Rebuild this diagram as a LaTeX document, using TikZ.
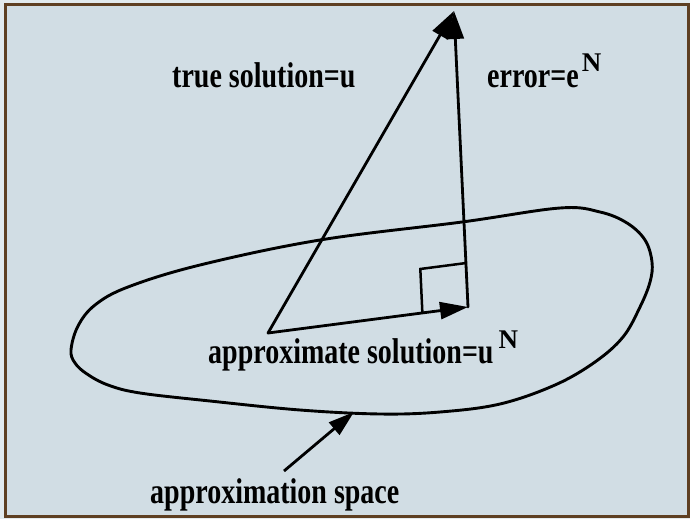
\documentclass[tikz,border=0pt]{standalone}
\usepackage{fontspec}
\usepackage{graphicx}
\setmainfont{Liberation Serif}
\usetikzlibrary{arrows.meta,calc}
\definecolor{bgcol}{HTML}{D1DDE4}
\definecolor{topcol}{HTML}{E2EAEE}
\definecolor{framecol}{HTML}{5E3F22}
\newcommand{\tallt}[1]{\scalebox{1}[1.28]{#1}}
\begin{document}
\begin{tikzpicture}[x=1pt,y=-1pt,
  vec/.style={line width=2.8pt, line cap=round, -{Triangle[length=28pt,width=17pt]}},
  ptr/.style={line width=2.8pt, -{Triangle[length=26pt,width=16pt]}},
  lab/.style={font=\fontsize{28}{30}\selectfont\bfseries, inner sep=0pt, anchor=base west},
  curve/.style={line width=2.9pt},
  sq/.style={line width=2.5pt}]
\useasboundingbox (0,0) rectangle (690,519);
\fill[topcol] (0,0) rectangle (690,519);
\fill[bgcol] (5,5) rectangle (688,516);
\draw[framecol, line width=3pt] (5,5) rectangle (688,516);

% approximation space (closed curve)
\draw[curve] plot[smooth cycle, tension=0.6] coordinates {
  (71,350) (78,326) (95,305) (128,287) (200,265) (320,240) (462,222)
  (560,208) (600,212) (627,223) (645,240) (652,262) (650,282) (640,307)
  (623,337) (595,362) (555,385) (500,404) (440,412) (380,414) (300,410)
  (210,401) (140,393) (108,385) (87,374) (75,363)};

% key points
\coordinate (O) at (268,333);
\coordinate (U) at (454,11);
\coordinate (P) at (468,307);
\coordinate (S) at (354,412);
\coordinate (T) at (284,471);

% right-angle mark
\coordinate (Pa) at ($(P)!46pt!(O)$);
\coordinate (Pb) at ($(P)!44pt!(U)$);
\coordinate (Pc) at ($(Pa)+(Pb)-(P)$);
\draw[sq] (Pa) -- (Pc) -- (Pb);

\draw[vec] (O) -- (U);
\draw[vec] (P) -- (U);
\draw[vec] (O) -- (P);
\draw[ptr] (T) -- (S);

\node[lab] (ltrue) at (172,87) {\tallt{true solution=u}};
\node[lab] (lerr) at (487,87) {\tallt{error=e}\hspace{3pt}\raisebox{16pt}{\fontsize{27}{30}\selectfont N}};
\node[lab] (lappr) at (208,363) {\tallt{approximate solution=u}\hspace{5pt}\raisebox{15pt}{\fontsize{27}{30}\selectfont N}};
\node[lab] (lspace) at (150,503) {\tallt{approximation space}};
\end{tikzpicture}
\end{document}
